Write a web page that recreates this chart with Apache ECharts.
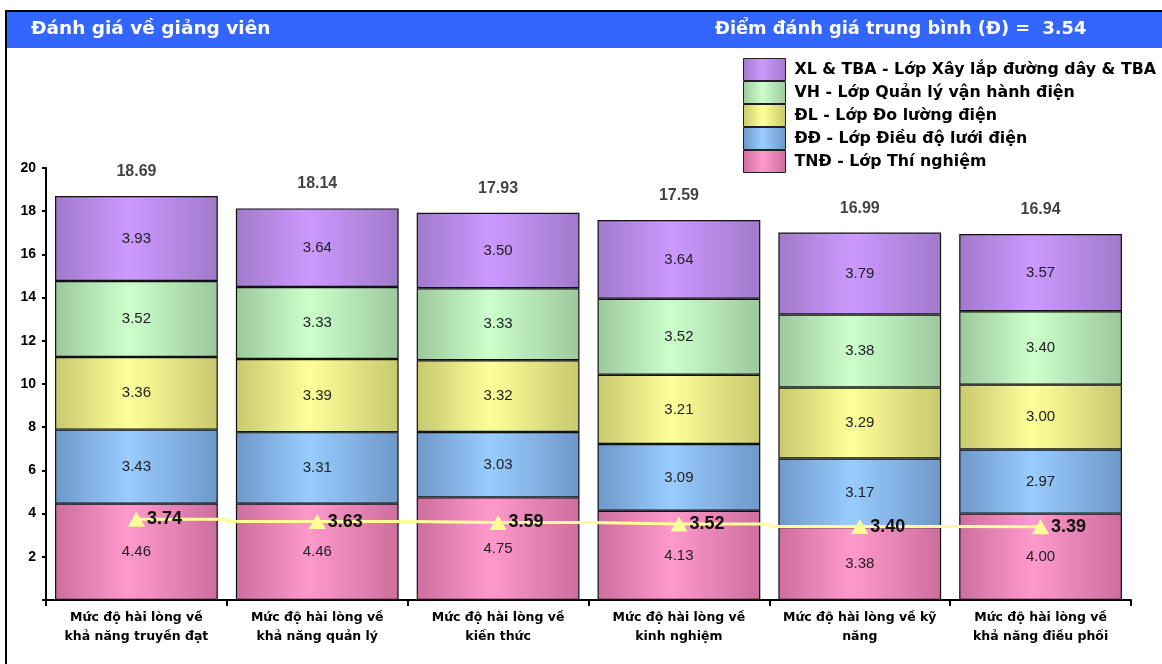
<!DOCTYPE html>
<html>
<head>
<meta charset="utf-8">
<script src="https://cdn.jsdelivr.net/npm/echarts@6/dist/echarts.min.js"></script>
<style>
  html, body { margin: 0; padding: 0; background: #fff; }
  #chart { width: 1162px; height: 664px; }
</style>
</head>
<body>
<div id="chart"></div>
<script>
// Categories (criteria)
const categories = [
  'Mức độ hài lòng về\nkhả năng truyền đạt',
  'Mức độ hài lòng về\nkhả năng quản lý',
  'Mức độ hài lòng về\nkiến thức',
  'Mức độ hài lòng về\nkinh nghiệm',
  'Mức độ hài lòng về kỹ\nnăng',
  'Mức độ hài lòng về\nkhả năng điều phối'
];

// Scores per class (stacked from bottom to top)
const tndValues = [4.46, 4.46, 4.75, 4.13, 3.38, 4.00];
const ddValues  = [3.43, 3.31, 3.03, 3.09, 3.17, 2.97];
const dlValues  = [3.36, 3.39, 3.32, 3.21, 3.29, 3.00];
const vhValues  = [3.52, 3.33, 3.33, 3.52, 3.38, 3.40];
const xlValues  = [3.93, 3.64, 3.50, 3.64, 3.79, 3.57];

// Stack totals and averages per criterion
const totalValues   = [18.69, 18.14, 17.93, 17.59, 16.99, 16.94];
const averageValues = [3.74, 3.63, 3.59, 3.52, 3.40, 3.39];

// Axis ticks
const yTicks = { min: 0, max: 20, interval: 2 };

const seriesNames = {
  xl: 'XL & TBA - Lớp Xây lắp đường dây & TBA',
  vh: 'VH - Lớp Quản lý vận hành điện',
  dl: 'ĐL - Lớp Đo lường điện',
  dd: 'ĐĐ - Lớp Điều độ lưới điện',
  tnd: 'TNĐ - Lớp Thí nghiệm'
};

const FONT = '"Liberation Sans", Arial, sans-serif';
const WIDE = '"DejaVu Sans", Verdana, sans-serif';

function shade(edge, mid) {
  return new echarts.graphic.LinearGradient(0, 0, 1, 0, [
    { offset: 0, color: edge },
    { offset: 0.45, color: mid },
    { offset: 1, color: edge }
  ]);
}

function stackSeries(name, data, edge, mid) {
  return {
    name: name,
    type: 'bar',
    stack: 'total',
    data: data,
    barCategoryGap: '10%',
    itemStyle: { color: shade(edge, mid), borderColor: '#111', borderWidth: 1.2 },
    label: {
      show: true,
      position: 'inside',
      formatter: p => p.value.toFixed(2),
      fontFamily: FONT,
      fontSize: 15,
      color: '#222'
    }
  };
}

const chart = echarts.init(document.getElementById('chart'), null, { renderer: 'canvas' });

chart.setOption({
  backgroundColor: '#fff',
  animation: false,
  graphic: [
    { type: 'rect', shape: { x: 5, y: 10, width: 1157, height: 654 }, style: { fill: '#000' }, z: -10 },
    { type: 'rect', shape: { x: 7, y: 12, width: 1155, height: 652 }, style: { fill: '#fff' }, z: -9 },
    { type: 'rect', shape: { x: 7, y: 12, width: 1155, height: 36 }, style: { fill: '#3366FF' }, z: -8 },
    {
      type: 'text', left: 31, top: 20, z: 10,
      style: { text: 'Đánh giá về giảng viên', fill: '#fff', font: 'bold 18.5px ' + WIDE }
    },
    {
      type: 'text', left: 715, top: 20, z: 10,
      style: { text: 'Điểm đánh giá trung bình (Đ) =  3.54', fill: '#fff', font: 'bold 17.8px ' + WIDE }
    }
  ],
  legend: {
    orient: 'vertical',
    left: 743,
    top: 58,
    itemWidth: 42,
    itemHeight: 22,
    itemGap: 0,
    padding: 0,
    icon: 'rect',
    data: [seriesNames.xl, seriesNames.vh, seriesNames.dl, seriesNames.dd, seriesNames.tnd],
    itemStyle: { borderColor: '#222', borderWidth: 1 },
    textStyle: { fontFamily: WIDE, fontSize: 15.8, fontWeight: 'bold', color: '#000', padding: [0, 0, 0, 4] }
  },
  grid: { left: 46, right: 31, top: 168, bottom: 64, containLabel: false },
  xAxis: {
    type: 'category',
    data: categories,
    axisLine: { lineStyle: { color: '#000', width: 2 } },
    axisTick: { show: true, length: 6, lineStyle: { color: '#000', width: 2 } },
    axisLabel: {
      fontFamily: WIDE, fontSize: 12.5, fontWeight: 'bold', color: '#000',
      lineHeight: 19, margin: 8, interval: 0
    }
  },
  yAxis: {
    type: 'value',
    min: yTicks.min,
    max: yTicks.max,
    interval: yTicks.interval,
    splitLine: { show: false },
    axisLine: { show: true, lineStyle: { color: '#000', width: 2 } },
    axisTick: { show: true, length: 4, lineStyle: { color: '#000', width: 2 } },
    axisLabel: {
      fontFamily: FONT, fontSize: 14, fontWeight: 'bold', color: '#000', margin: 10,
      formatter: v => (v === 0 ? '' : String(v))
    }
  },
  series: [
    stackSeries(seriesNames.tnd, tndValues, '#CC6E9E', '#FF99CC'),
    stackSeries(seriesNames.dd, ddValues, '#6E98C8', '#99CCFF'),
    stackSeries(seriesNames.dl, dlValues, '#C8C86E', '#FFFF99'),
    stackSeries(seriesNames.vh, vhValues, '#9CC89C', '#CCFFCC'),
    stackSeries(seriesNames.xl, xlValues, '#A07ACA', '#CC99FF'),
    {
      name: 'Tổng',
      type: 'scatter',
      data: totalValues,
      symbolSize: 1,
      itemStyle: { color: 'rgba(0,0,0,0)' },
      z: 5,
      label: {
        show: true,
        position: 'top',
        distance: 16,
        formatter: p => p.value.toFixed(2),
        fontFamily: FONT, fontSize: 16, fontWeight: 'bold', color: '#111'
      }
    },
    {
      name: 'Trung bình',
      type: 'line',
      data: averageValues,
      step: 'middle',
      symbol: 'triangle',
      symbolSize: [17, 15],
      z: 6,
      lineStyle: { color: '#FFFF99', width: 3 },
      itemStyle: { color: '#FFFF99' },
      label: {
        show: true,
        position: 'right',
        distance: 2,
        formatter: p => p.value.toFixed(2),
        fontFamily: FONT, fontSize: 18, fontWeight: 'bold', color: '#111'
      }
    }
  ]
});
</script>
</body>
</html>
